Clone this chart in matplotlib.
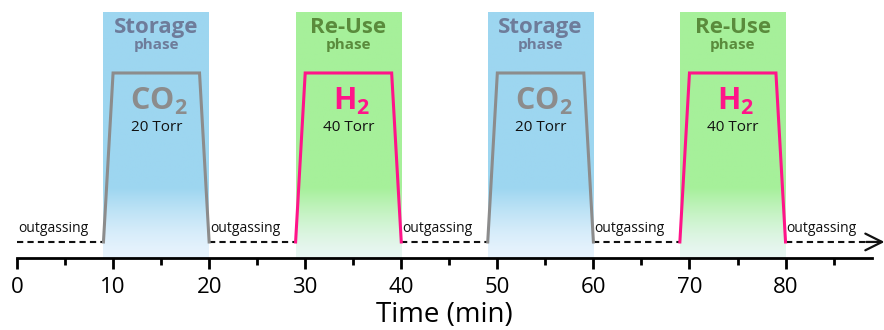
"""Gas cycling timeline: storage (CO2) / re-use (H2) phases."""
import matplotlib
matplotlib.use('Agg')
import matplotlib.pyplot as plt
from matplotlib.colors import to_rgb
import numpy as np

plt.rcParams['font.family'] = ['Open Sans', 'DejaVu Sans']
plt.rcParams['mathtext.fontset'] = 'custom'
plt.rcParams['mathtext.rm'] = 'Open Sans'
plt.rcParams['mathtext.bf'] = 'Open Sans:bold'

# Data
phase_start = [9, 29, 49, 69]
phase_end = [20, 40, 60, 80]
phase_name = ['Storage', 'Re-Use', 'Storage', 'Re-Use']
gas_label = [r'$\mathbf{CO_2}$', r'$\mathbf{H_2}$', r'$\mathbf{CO_2}$', r'$\mathbf{H_2}$']
pressure_torr = [20, 40, 20, 40]
ramp_min = 1
out_start = [0, 20, 40, 60, 80]
out_end = [9, 29, 49, 69, 88.6]

# Colors
BLUE_BG = '#9DD6F0'
GREEN_BG = '#A6F09A'
STORAGE_TC = '#6E7C9A'
REUSE_TC = '#5A8B3C'
CO2_C = '#8C8C8C'
H2_C = '#FF1489'

style = {
    'Storage': (BLUE_BG, STORAGE_TC, CO2_C),
    'Re-Use': (GREEN_BG, REUSE_TC, H2_C),
}

fig = plt.figure(figsize=(8.84, 3.30), dpi=100)
ax = fig.add_axes([17 / 884, 72 / 330, 855 / 884, 258 / 330])
ax.set_xlim(0, 89)
y_bot, y_top = -0.095, 1.432
ax.set_ylim(y_bot, y_top)

for sp in ['top', 'right', 'left']:
    ax.spines[sp].set_visible(False)
ax.spines['bottom'].set_linewidth(2)
ax.set_yticks([])
ax.set_xticks(np.arange(0, 81, 10))
ax.set_xticks(np.arange(5, 90, 10), minor=True)
ax.tick_params(axis='x', which='major', length=8, width=2, labelsize=16, pad=6)
ax.tick_params(axis='x', which='minor', length=5, width=2)
ax.set_xlabel('Time (min)', fontsize=20, labelpad=2)

bg_top = 1.36
for s, e, name, gas, p in zip(phase_start, phase_end, phase_name, gas_label, pressure_torr):
    bg, tc, lc = style[name]
    # vertical gradient: solid on top, fading to near-white at axis
    n = 200
    yy = np.linspace(bg_top, y_bot, n)
    frac = np.clip((0.32 - yy) / (0.32 - y_bot), 0, 1)
    mix = 0.12 + 0.88 * (1 - frac) ** 1.4
    rgb = np.array(to_rgb(bg))
    col = rgb[None, :] * mix[:, None] + (1 - mix[:, None]) * np.array([0.95, 0.97, 1.0])
    img = np.repeat(col[:, None, :], 2, axis=1)
    ax.imshow(img, extent=(s, e, y_bot, bg_top), aspect='auto', zorder=0,
              interpolation='bilinear')

    ax.plot([s, s + ramp_min, e - ramp_min, e], [0, 1, 1, 0], color=lc, lw=2.2,
            zorder=3, solid_joinstyle='miter')
    xc = (s + e) / 2
    ax.text(xc, 1.27, name, ha='center', va='center', fontsize=16,
            fontweight='bold', color=tc)
    ax.text(xc, 1.165, 'phase', ha='center', va='center', fontsize=11,
            fontweight='bold', color=tc)
    ax.text(xc + 0.3, 0.83, gas, ha='center', va='center', fontsize=22,
            color=lc)
    ax.text(xc, 0.675, f'{p} Torr', ha='center', va='center', fontsize=11,
            color='#111111')

for s, e in zip(out_start, out_end):
    ax.plot([s, e], [0, 0], color='#111111', lw=1.5, ls=(0, (3, 2)), zorder=2)
    ax.text(s + 0.1, 0.035, 'outgassing', ha='left', va='bottom', fontsize=10,
            color='#111111')

ax.annotate('', xy=(90.3, 0), xytext=(88.4, 0), annotation_clip=False,
            arrowprops=dict(arrowstyle='->,head_length=0.6,head_width=0.3',
                            mutation_scale=20, lw=1.6, color='#111111',
                            shrinkA=0, shrinkB=0))

fig.savefig('out.png', dpi=100, facecolor='white')
